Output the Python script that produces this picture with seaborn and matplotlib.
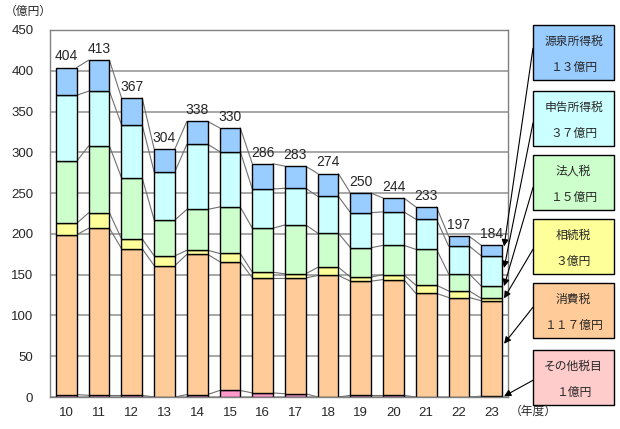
import numpy as np
import matplotlib
matplotlib.use("Agg")
import matplotlib.pyplot as plt
from matplotlib.patches import Rectangle
import seaborn as sns

sns.set_style("white")
plt.rcParams['font.family'] = ['Liberation Sans', 'Noto Sans CJK JP', 'DejaVu Sans']

years = ['10', '11', '12', '13', '14', '15', '16', '17', '18', '19', '20', '21', '22', '23']
totals = [404, 413, 367, 304, 338, 330, 286, 283, 274, 250, 244, 233, 197, 184]

other = [3, 2, 2, 0, 3, 8, 5, 4, 0, 2, 2, 0, 0, 1]
consumption = [196, 205, 180, 161, 172, 158, 141, 142, 149, 140, 142, 127, 122, 117]
inheritance = [14, 19, 12, 12, 5, 10, 7, 5, 10, 5, 6, 10, 8, 3]
corporate = [76, 82, 75, 44, 50, 57, 54, 60, 42, 36, 36, 44, 21, 15]
declared = [81, 67, 65, 59, 80, 68, 48, 45, 45, 43, 41, 37, 34, 37]
withholding = [34, 38, 33, 28, 28, 29, 31, 27, 28, 24, 17, 15, 12, 13]

series = [other, consumption, inheritance, corporate, declared, withholding]
bar_colors = ['#FF99CC', '#FFCC99', '#FFFF99', '#CCFFCC', '#CCFFFF', '#99CCFF']

box_names = ['源泉所得税', '申告所得税', '法人税', '相続税', '消費税', 'その他税目']
box_values = ['１３億円', '３７億円', '１５億円', '３億円', '１１７億円', '１億円']
box_colors = ['#99CCFF', '#CCFFFF', '#CCFFCC', '#FFFF99', '#FFCC99', '#FFCCCC']

W, H = 620, 429
fig = plt.figure(figsize=(W / 100, H / 100), dpi=100)
ax = fig.add_axes([50 / W, (H - 397) / H, (508 - 50) / W, (397 - 30) / H])

bw = 0.63
n = len(years)
bottom = np.zeros(n)
cum = []
for vals, c in zip(series, bar_colors):
    vals = np.array(vals, dtype=float)
    sns.barplot(x=years, y=vals, bottom=bottom, color=c, saturation=1,
                edgecolor='black', linewidth=1.0, width=bw, errorbar=None,
                ax=ax, zorder=2)
    bottom = bottom + vals
    cum.append(bottom.copy())

# series lines between bars
for level in cum:
    for i in range(n - 1):
        ax.plot([i + bw / 2, i + 1 - bw / 2], [level[i], level[i + 1]],
                color='#707070', lw=0.8, zorder=1.5)

# total labels
for i, t in enumerate(totals):
    ax.text(i, cum[-1][i] + 5, str(t), ha='center', va='bottom', fontsize=10)

ax.set_xlim(-0.5, n - 0.5)
ax.set_ylim(0, 450)
ax.set_yticks(np.arange(0, 451, 50))
ax.yaxis.grid(True, color='#A0A0A0', lw=1.3)
ax.set_axisbelow(True)
ax.set_xlabel('')
ax.set_ylabel('')
for s in ax.spines.values():
    s.set_color('#808080')
    s.set_linewidth(1.0)
ax.tick_params(axis='y', length=0, pad=12, labelsize=9.5)
ax.tick_params(axis='x', length=0, pad=7, labelsize=9.5)
ax.set_xticks(np.arange(n - 1) + 0.5, minor=True)
ax.tick_params(axis='x', which='minor', direction='in', length=4, color='#606060')

fig.text(5 / W, 1 - 12 / H, '（億円）', fontsize=8.5, va='center', ha='left')
fig.text(510 / W, 1 - 412 / H, '（年度）', fontsize=8.5, va='center', ha='left')

# callout boxes
tops = [25, 91, 155, 219, 283, 350]
bh = 55
bx, bwid = 533, 81
origin_frac = [0.42, 0.58, 0.59, 0.55, 0.44, 0.55]
tip_frac = [0.9, 0.6, 1.0, 1.0, 0.55, 1.0]
seg_order = [5, 4, 3, 2, 1, 0]
for k in range(6):
    top = tops[k]
    fig.add_artist(Rectangle((bx / W, 1 - (top + bh) / H), bwid / W, bh / H,
                             transform=fig.transFigure, facecolor=box_colors[k],
                             edgecolor='black', lw=1.0))
    fig.text((bx + bwid / 2) / W, 1 - (top + bh * 0.31) / H, box_names[k],
             ha='center', va='center', fontsize=8.5)
    fig.text((bx + bwid / 2) / W, 1 - (top + bh * 0.78) / H, box_values[k],
             ha='center', va='center', fontsize=8.5)
    s = seg_order[k]
    seg_bottom = cum[s - 1][-1] if s > 0 else 0.0
    seg_h = series[s][-1]
    ty = seg_bottom + tip_frac[k] * seg_h
    oy = top + bh * origin_frac[k]
    ax.annotate('', xy=(13.38, ty), xycoords='data',
                xytext=(bx / W, 1 - oy / H), textcoords='figure fraction',
                arrowprops=dict(arrowstyle='-|>', color='black', lw=0.8,
                                mutation_scale=10, shrinkA=0, shrinkB=0),
                annotation_clip=False)

fig.savefig('out.png', dpi=100)
